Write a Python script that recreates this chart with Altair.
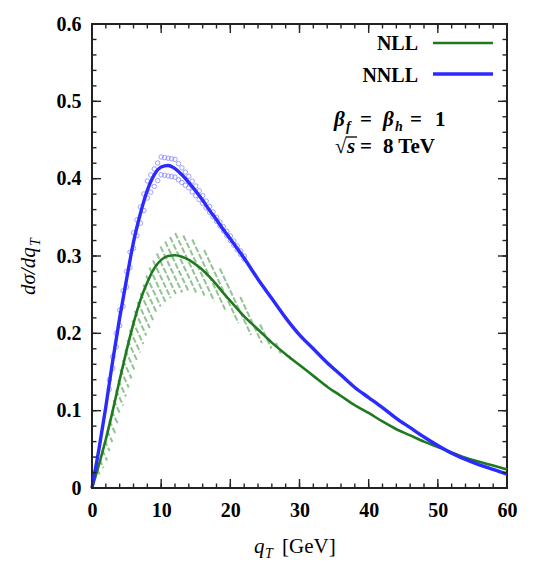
import altair as alt
import numpy as np
import pandas as pd

# ---------------- data ----------------
q = [0, 1, 2, 3, 4, 5, 6, 7, 8, 9, 10, 11, 12, 13, 14, 15, 16, 17, 18, 19, 20,
     22, 24, 26, 28, 30, 32, 34, 36, 38, 40, 42, 44, 46, 48, 50, 52, 54, 56, 58, 60]
nll = [0, 0.03, 0.063, 0.10, 0.14, 0.178, 0.213, 0.243, 0.266, 0.284, 0.295, 0.300,
       0.301, 0.299, 0.295, 0.289, 0.282, 0.273, 0.263, 0.252, 0.242,
       0.222, 0.205, 0.188, 0.173, 0.159, 0.145, 0.131, 0.119, 0.107, 0.097,
       0.086, 0.076, 0.068, 0.060, 0.053, 0.046, 0.039, 0.034, 0.029, 0.024]
nnll = [0, 0.05, 0.105, 0.165, 0.22, 0.27, 0.318, 0.355, 0.385, 0.405, 0.415, 0.417,
        0.413, 0.405, 0.395, 0.384, 0.372, 0.359, 0.347, 0.334, 0.322,
        0.297, 0.270, 0.245, 0.220, 0.198, 0.180, 0.162, 0.146, 0.130, 0.117,
        0.104, 0.090, 0.078, 0.066, 0.055, 0.045, 0.037, 0.030, 0.024, 0.018]

# NLL scale-variation band (hatched)
nll_band_q = [0, 2, 4, 6, 8, 10, 12, 14, 16, 18, 20, 22, 24, 26, 28, 30]
nll_up = [0, 0.068, 0.15, 0.225, 0.28, 0.315, 0.330, 0.325, 0.310, 0.290, 0.265,
          0.240, 0.215, 0.193, 0.175, 0.159]
nll_lo = [0, 0.030, 0.09, 0.15, 0.20, 0.235, 0.250, 0.255, 0.250, 0.240, 0.225,
          0.205, 0.190, 0.180, 0.170, 0.157]

# NNLL band (circle pattern)
nnll_band_q = [2, 4, 6, 8, 10, 12, 14, 16, 18, 20, 22]
nnll_up = [0.11, 0.23, 0.33, 0.397, 0.428, 0.425, 0.403, 0.378, 0.350, 0.326, 0.300]
nnll_lo = [0.10, 0.21, 0.31, 0.375, 0.405, 0.402, 0.388, 0.368, 0.345, 0.320, 0.296]

x_major = [0, 10, 20, 30, 40, 50, 60]
x_minor = list(range(0, 61, 2))
y_major = [0, 0.1, 0.2, 0.3, 0.4, 0.5, 0.6]
y_minor = [round(0.02 * i, 2) for i in range(31)]

# ---------------- styling ----------------
W, H = 415, 464
SERIF = "Liberation Serif"
GREEN = "#1f7a1f"
BLUE = "#2b2bff"
HATCH = "#78b478"
CIRC = "#8080ff"
FRAME = "#222222"
MAJ, MIN = 9, 4.5

xs = alt.Scale(domain=[0, 60], nice=False, zero=False)
ys = alt.Scale(domain=[0, 0.6], nice=False, zero=False)

x_axis = alt.Axis(values=x_major, ticks=False, domain=False, grid=False, title=None,
                  labelFont=SERIF, labelFontSize=20, labelFontWeight="bold",
                  labelColor="black", labelPadding=12, labelFlush=False)
y_axis = alt.Axis(values=y_major, ticks=False, domain=False, grid=False, title=None,
                  labelFont=SERIF, labelFontSize=20, labelFontWeight="bold",
                  labelColor="black", labelPadding=11, labelFlush=False,
                  labelExpr="datum.value == 0 ? '0' : format(datum.value, '.1f')")


def X(field):
    return alt.X(field, type="quantitative", scale=xs, axis=x_axis)


def Y(field):
    return alt.Y(field, type="quantitative", scale=ys, axis=y_axis)


df = pd.DataFrame({"q": q, "NLL": nll, "NNLL": nnll})

# hatch pattern: parallel "\" lines (fixed screen direction) clipped to the NLL band
bq, bu, bl = np.array(nll_band_q), np.array(nll_up), np.array(nll_lo)
K = 0.47          # horizontal px per vertical px of a hatch line
STEP = 7.0        # spacing of hatch lines in px
ypx = np.arange(0, H, 0.5)
rows = []
for c in np.arange(-K * H, W, STEP):
    xpx = c + K * ypx
    qq = xpx * 60 / W
    vv = (H - ypx) * 0.6 / H
    inside = (qq >= 0.5) & (qq <= bq[-1]) & (vv <= np.interp(qq, bq, bu)) & (vv >= np.interp(qq, bq, bl))
    idx = np.flatnonzero(inside)
    if idx.size == 0:
        continue
    splits = np.split(idx, np.flatnonzero(np.diff(idx) > 1) + 1)
    for run in splits:
        if run.size < 3:
            continue
        a, b = run[0], run[-1]
        rows.append({"qa": float(qq[a]), "ya": float(vv[a]), "qb": float(qq[b]), "yb": float(vv[b])})
hatch_df = pd.DataFrame(rows)

cq, cu, cl = np.array(nnll_band_q), np.array(nnll_up), np.array(nnll_lo)
pts = []
for s in np.arange(2.5, 22.01, 0.5):
    pts.append({"q": s, "v": float(np.interp(s, cq, cu))})
    pts.append({"q": s, "v": float(np.interp(s, cq, cl))})
circ_df = pd.DataFrame(pts)

hatch = alt.Chart(hatch_df).mark_rule(color=HATCH, strokeWidth=2.0, opacity=0.8,
                                      strokeDash=[6, 2]).encode(
    x=X("qa"), y=Y("ya"), x2="qb:Q", y2="yb:Q")

circles = alt.Chart(circ_df).mark_point(shape="circle", size=20, filled=False,
                                         color=CIRC, strokeWidth=1, opacity=0.75).encode(
    x=X("q"), y=Y("v"))

green_line = alt.Chart(df).mark_line(color=GREEN, strokeWidth=2.6, interpolate="monotone").encode(
    x=X("q"), y=Y("NLL"))
blue_line = alt.Chart(df).mark_line(color=BLUE, strokeWidth=3.4, interpolate="monotone").encode(
    x=X("q"), y=Y("NNLL"))

# ---------------- tick marks (inward, all four sides) ----------------
dy = 0.6 / H
dx = 60 / W
xt = []
for vals, L in ((x_major, MAJ), (x_minor, MIN)):
    for t in vals:
        xt.append({"tx": t, "ty": 0.0, "ty2": L * dy})
        xt.append({"tx": t, "ty": 0.6, "ty2": 0.6 - L * dy})
yt = []
for vals, L in ((y_major, MAJ), (y_minor, MIN)):
    for t in vals:
        yt.append({"uy": t, "ux": 0.0, "ux2": L * dx})
        yt.append({"uy": t, "ux": 60.0, "ux2": 60 - L * dx})

xtick_layer = alt.Chart(pd.DataFrame(xt)).mark_rule(color=FRAME, strokeWidth=1.4).encode(
    x=X("tx"), y=Y("ty"), y2="ty2:Q")
ytick_layer = alt.Chart(pd.DataFrame(yt)).mark_rule(color=FRAME, strokeWidth=1.4).encode(
    y=Y("uy"), x=X("ux"), x2="ux2:Q")

# ---------------- text helpers ----------------
one = pd.DataFrame({"a": [0]})


def txt(s, x, y, size=20, style="normal", weight="normal", align="left", angle=0, color="black"):
    return alt.Chart(one).mark_text(text=s, font=SERIF, fontSize=size, fontStyle=style,
                                    fontWeight=weight, align=align, baseline="alphabetic",
                                    angle=angle, color=color).encode(x=alt.value(x), y=alt.value(y))


texts = [
    # legend
    txt("NLL", 326, 26, size=20, weight="bold", align="right"),
    txt("NNLL", 326, 58, size=20, weight="bold", align="right"),
    # annotation line 1: beta_f = beta_h = 1
    txt("β", 242, 102, size=21, style="italic", weight="bold"),
    txt("f", 254, 107, size=14, style="italic", weight="bold"),
    txt("=", 268, 102, size=21, weight="bold"),
    txt("β", 291, 102, size=21, style="italic", weight="bold"),
    txt("h", 303, 107, size=14, style="italic", weight="bold"),
    txt("=", 318, 102, size=21, weight="bold"),
    txt("1", 343, 102, size=21, weight="bold"),
    # annotation line 2: sqrt(s) = 8 TeV
    txt("√", 243, 129, size=21, weight="bold"),
    txt("s", 255, 129, size=21, style="italic", weight="bold"),
    txt("=", 268, 129, size=21, weight="bold"),
    txt("8 TeV", 291, 129, size=21, weight="bold"),
    # x title
    txt("q", 162, 529, size=21, style="italic"),
    txt("T", 173, 534, size=14, style="italic"),
    txt("[GeV]", 190, 529, size=21),
    # y title (rotated)
    txt("dσ/dq", -57, 271, size=21, style="italic", angle=270),
    txt("T", -52, 222, size=14, style="italic", angle=270),
]

legend_lines = [
    alt.Chart(one).mark_rule(color=GREEN, strokeWidth=2.6).encode(
        x=alt.value(341), x2=alt.value(401), y=alt.value(19)),
    alt.Chart(one).mark_rule(color=BLUE, strokeWidth=3.4).encode(
        x=alt.value(341), x2=alt.value(401), y=alt.value(50)),
]

# sqrt overline
overline = alt.Chart(one).mark_rule(color="black", strokeWidth=1.3).encode(
    x=alt.value(254), x2=alt.value(265), y=alt.value(113))

chart = alt.layer(hatch, circles, green_line, blue_line, xtick_layer, ytick_layer,
                  *legend_lines, overline, *texts).properties(
    width=W, height=H,
    autosize=alt.AutoSizeParams(type="none"),
    padding={"left": 92, "top": 24, "right": 38, "bottom": 76},
    background="white",
).configure_view(stroke=FRAME, strokeWidth=2)

chart.save("out.html", embed_options={"renderer": "svg", "actions": False})
